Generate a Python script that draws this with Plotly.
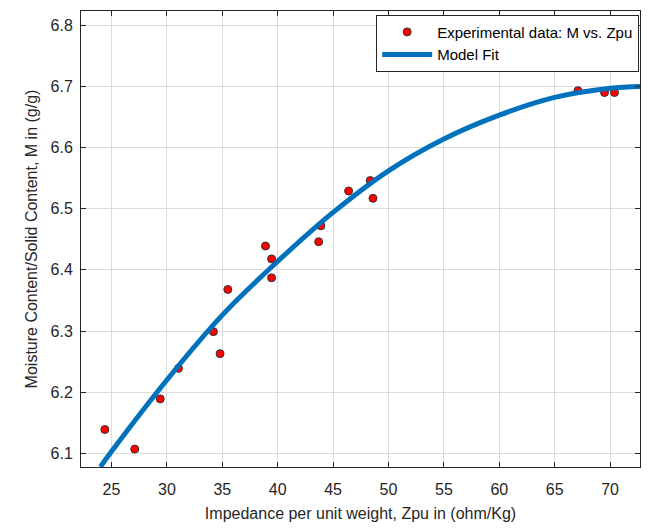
import plotly.graph_objects as go

zpu = [24.4, 27.1, 29.4, 31.05, 34.2, 34.8, 35.5, 38.9, 39.45, 39.45,
       43.7, 43.9, 46.4, 48.35, 48.6, 67.1, 69.5, 70.4]
moisture = [6.139, 6.107, 6.189, 6.239, 6.299, 6.263, 6.368, 6.439, 6.418, 6.387,
            6.446, 6.472, 6.529, 6.546, 6.517, 6.693, 6.690, 6.690]

# Model fit curve
fit_x = [24.0, 25, 30, 35, 40, 45, 50, 55, 60, 65, 70, 73]
fit_y = [6.078, 6.103, 6.220, 6.326, 6.414, 6.494, 6.562, 6.614, 6.653, 6.682, 6.697, 6.700]

x_ticks = [25, 30, 35, 40, 45, 50, 55, 60, 65, 70]
y_ticks = [6.1, 6.2, 6.3, 6.4, 6.5, 6.6, 6.7, 6.8]

font_family = "Liberation Sans, Arial, sans-serif"

fig = go.Figure()
fig.add_trace(go.Scatter(
    x=zpu, y=moisture, mode="markers", name="Experimental data: M vs. Zpu",
    marker=dict(color="#ff0000", size=8, line=dict(color="#333333", width=1)),
))
fig.add_trace(go.Scatter(
    x=fit_x, y=fit_y, mode="lines", name="Model Fit",
    line=dict(color="#0072BD", width=5, shape="spline"),
))

axis_common = dict(
    showline=True, linecolor="#262626", linewidth=1, mirror="allticks",
    ticks="inside", ticklen=5, tickcolor="#262626",
    showgrid=True, gridcolor="#dcdcdc", gridwidth=1, zeroline=False,
    tickfont=dict(family=font_family, size=16, color="#262626"),
    automargin=False,
)

fig.update_xaxes(
    range=[22.25, 72.7], tickvals=x_ticks,
    title=dict(text="Impedance per unit weight, Zpu in (ohm/Kg)",
               font=dict(family=font_family, size=16, color="#262626"), standoff=10),
    ticklabelstandoff=8,
    **axis_common,
)
fig.update_yaxes(
    range=[6.0777, 6.8233], tickvals=y_ticks, tickformat=".1f",
    title=dict(text="Moisture Content/Solid Content, M in (g/g)",
               font=dict(family=font_family, size=16, color="#262626"), standoff=8),
    ticklabelstandoff=4,
    **axis_common,
)

fig.update_layout(
    width=650, height=528,
    margin=dict(l=81, r=10, t=11, b=61),
    paper_bgcolor="white", plot_bgcolor="white",
    font=dict(family=font_family, color="#262626"),
    legend=dict(x=0.9985, y=0.992, xanchor="right", yanchor="top",
                bgcolor="white", bordercolor="#262626", borderwidth=1,
                font=dict(family=font_family, size=15, color="#000000"),
                itemwidth=50, tracegroupgap=0),
)

fig.write_html("out.html", config={"displayModeBar": False},
               post_script="document.body.style.margin='0px';document.body.style.overflow='hidden';")
